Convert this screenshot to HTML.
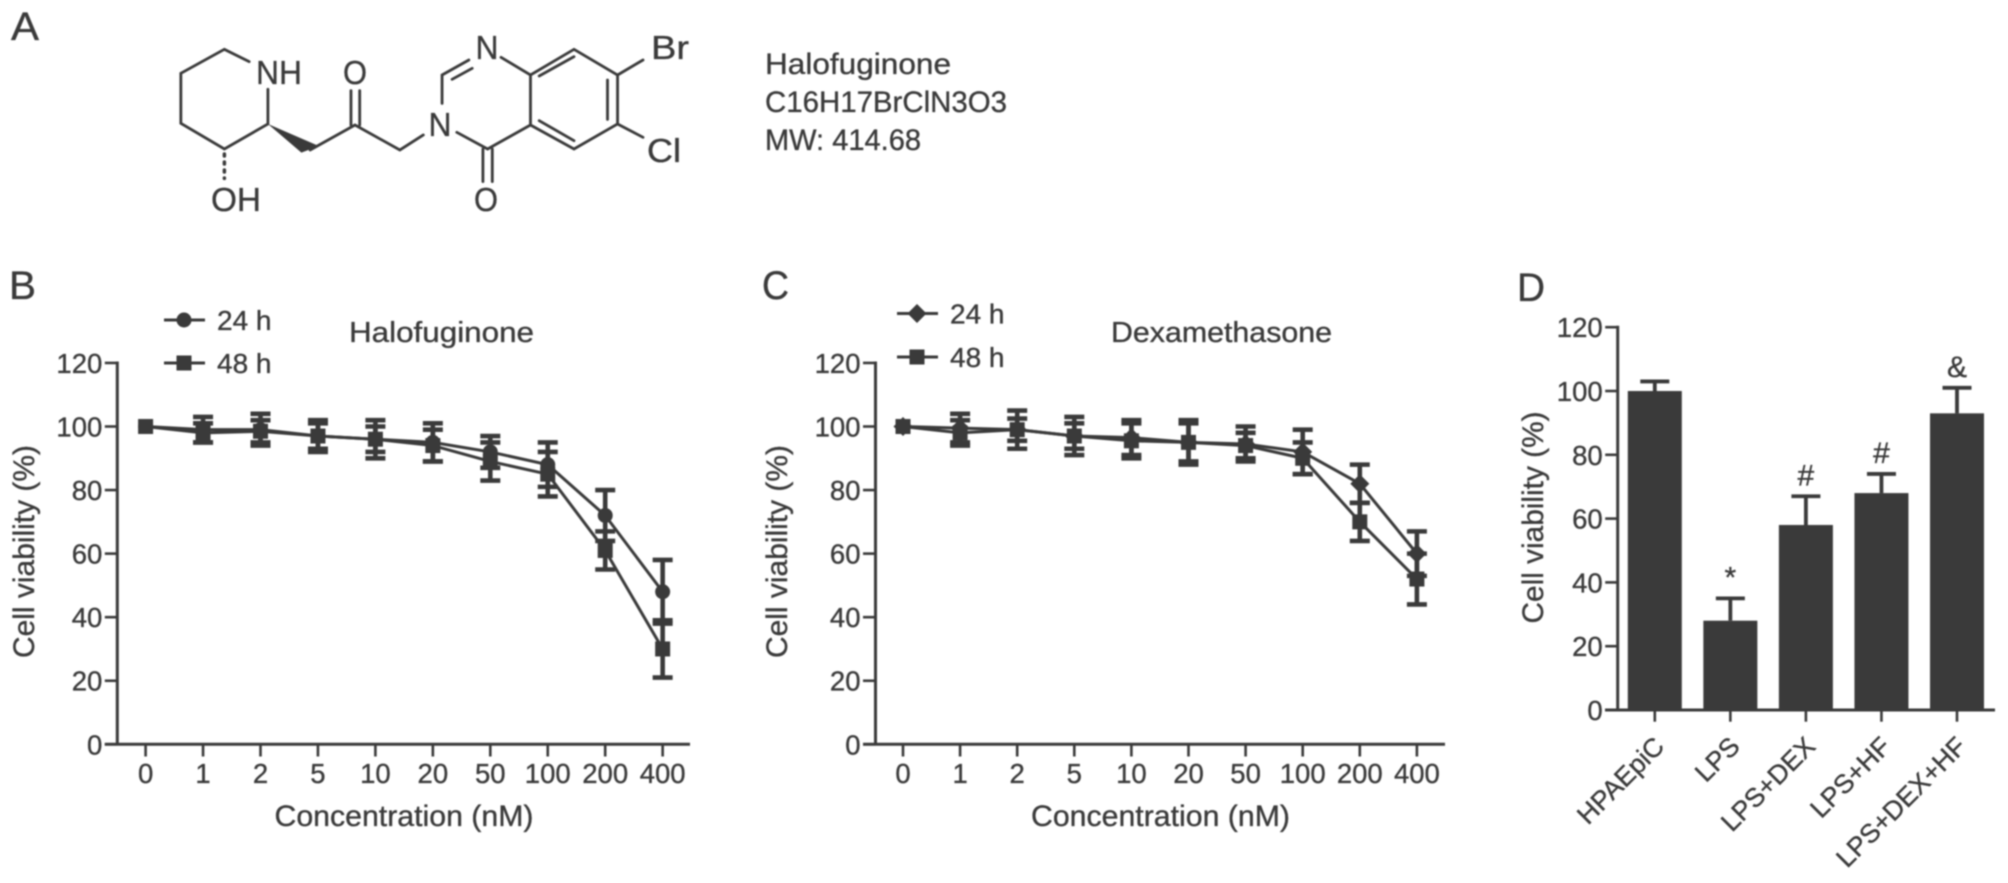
<!DOCTYPE html>
<html lang="en">
<head>
<meta charset="utf-8">
<title>Halofuginone cell viability figure</title>
<style>
html,body{margin:0;padding:0;background:#fff;width:2008px;height:883px;overflow:hidden}
svg{display:block;filter:blur(0.7px)}
text{font-family:"Liberation Sans",sans-serif;fill:#3a3a3a;stroke:#3a3a3a;stroke-width:.35px}
</style>
</head>
<body>
<svg id="figure" width="2008" height="883" viewBox="0 0 2008 883" xmlns="http://www.w3.org/2000/svg">
<rect width="2008" height="883" fill="#fff"/>
<text x="11" y="40" font-size="40" textLength="28" lengthAdjust="spacingAndGlyphs">A</text>
<text x="9" y="299" font-size="40" textLength="27" lengthAdjust="spacingAndGlyphs">B</text>
<text x="762" y="299" font-size="40" textLength="27" lengthAdjust="spacingAndGlyphs">C</text>
<text x="1517" y="301" font-size="40" textLength="28" lengthAdjust="spacingAndGlyphs">D</text>

<g>
<g transform="scale(0.6698,0.3333)" fill="none" stroke="#3a3a3a" stroke-width="2.8" stroke-linecap="round">
<path vector-effect="non-scaling-stroke" d="M372,185L335,148L270,220V370L335,447L400,372V268"/>
<path vector-effect="non-scaling-stroke" d="M463,450L530,375L597,450L632,405"/>
<path vector-effect="non-scaling-stroke" d="M524,375V272M537,375V272"/>
<path vector-effect="non-scaling-stroke" d="M660,310V225L700,180M675,238L705,205"/>
<path vector-effect="non-scaling-stroke" d="M748,172L792,225L857,148L922,225V372L857,447L792,375V225M805,228L857,170M907,240V358M857,422L805,362"/>
<path vector-effect="non-scaling-stroke" d="M922,225L960,180M922,372L960,412"/>
<path vector-effect="non-scaling-stroke" d="M792,375L728,447L682,397M721,447V545M735,447V545"/>
<path vector-effect="non-scaling-stroke" stroke-dasharray="2 6" stroke-width="3.5" d="M335,462V535"/>
<polygon points="400,372 450,458 476,438" fill="#3a3a3a" stroke="none"/>
</g>
<g font-size="33" text-anchor="middle">
<text x="279" y="84" textLength="46" lengthAdjust="spacingAndGlyphs">NH</text>
<text x="355" y="84" textLength="24" lengthAdjust="spacingAndGlyphs">O</text>
<text x="487" y="59" textLength="23" lengthAdjust="spacingAndGlyphs">N</text>
<text x="670" y="59" textLength="38" lengthAdjust="spacingAndGlyphs">Br</text>
<text x="440" y="136" textLength="23" lengthAdjust="spacingAndGlyphs">N</text>
<text x="664" y="162" textLength="34" lengthAdjust="spacingAndGlyphs">Cl</text>
<text x="486" y="211" textLength="24" lengthAdjust="spacingAndGlyphs">O</text>
<text x="236" y="211" textLength="50" lengthAdjust="spacingAndGlyphs">OH</text>
</g>
</g>

<g font-size="30">
<text x="765" y="74" textLength="186" lengthAdjust="spacingAndGlyphs">Halofuginone</text>
<text x="765" y="112" textLength="242" lengthAdjust="spacingAndGlyphs">C16H17BrClN3O3</text>
<text x="765" y="150" textLength="156" lengthAdjust="spacingAndGlyphs">MW: 414.68</text>
</g>

<g id="panelB"></g>
<g id="panelC"></g>
<g id="panelD"></g>
</svg>

<script>
const concentrationLabels = ['0','1','2','5','10','20','50','100','200','400'];
const yTickValues = [0,20,40,60,80,100,120];

const hf24Values = [100,99,99,97,96,95,92,88,72,48];
const hf24Errors = [0,4,5,5,6,6,5,7,8,10];
const hf48Values = [100,98,98.5,97,96,94,89,85,61,30];
const hf48Errors = [0,3,3.5,4,4,5,6,7,6,9];

const dex24Values = [100,99.5,99,97,96.5,95,94.5,92,82,60];
const dex24Errors = [0,4.5,6,6,5.5,7,5.5,7,6,7];
const dex48Values = [100,98,99,97,95.5,95,94,90,70,52];
const dex48Errors = [0,4,3.5,4,5.5,6,4,5,6,8];

const barCategories = ['HPAEpiC','LPS','LPS+DEX','LPS+HF','LPS+DEX+HF'];
const barValues = [100,28,58,68,93];
const barErrors = [3,7,9,6,8];
const barSymbols = ['','*','#','#','&'];

const SVG_NS = 'http://www.w3.org/2000/svg';
const INK = '#3a3a3a';

function mk(parent, tag, attrs, txt) {
  const el = document.createElementNS(SVG_NS, tag);
  for (const k in attrs) el.setAttribute(k, attrs[k]);
  if (txt !== undefined) el.textContent = txt;
  parent.appendChild(el);
  return el;
}

function drawYAxis(g, axisX, yScale, rightEnd, leftEnd) {
  const yAxis = mk(g, 'line', {x1:axisX, x2:axisX, y1:yScale(120)-1.5, y2:yScale(0), stroke:INK, 'stroke-width':3});
  
  
  const xAxis = mk(g, 'line', {x1:leftEnd, x2:rightEnd, y1:yScale(0), y2:yScale(0), stroke:INK, 'stroke-width':3});
  
  
  yTickValues.forEach(function (v) {
    const tick = mk(g, 'line', {x1:axisX-12.5, x2:axisX, y1:yScale(v), y2:yScale(v), stroke:INK, 'stroke-width':2.6});
    
    
    const label = mk(g, 'text', {x:axisX-15, y:yScale(v)+10, 'font-size':27.5, 'text-anchor':'end'}, String(v));
    
    
  });
}

function drawMarker(g, kind, cx, cy) {
  let m;
  if (kind === 'square') {
    m = mk(g, 'rect', {x:cx-7.5, y:cy-7.5, width:15, height:15, fill:INK});
  } else if (kind === 'diamond') {
    m = mk(g, 'polygon', {points:[cx,cy-9.5,cx+9.5,cy,cx,cy+9.5,cx-9.5,cy].join(','), fill:INK});
  } else {
    m = mk(g, 'circle', {cx:cx, cy:cy, r:7.5, fill:INK});
  }
  return m;
}

function drawSeries(g, name, marker, values, errors, xScale, yScale) {
  const pts = values.map(function (v, i) { return xScale(i) + ',' + yScale(v); }).join(' ');
  const line = mk(g, 'polyline', {points:pts, fill:'none', stroke:INK, 'stroke-width':3});
  
  
  values.forEach(function (v, i) {
    const x = xScale(i);
    if (errors[i] > 0) {
      const bar = mk(g, 'path', {
        d: 'M' + x + ',' + yScale(v + errors[i]) + 'V' + yScale(v - errors[i]) +
           'M' + (x-10) + ',' + yScale(v + errors[i]) + 'H' + (x+10) +
           'M' + (x-10) + ',' + yScale(v - errors[i]) + 'H' + (x+10),
        fill:'none', stroke:INK, 'stroke-width':4.6
      });
      
      
    }
    const pt = drawMarker(g, marker, x, yScale(v));
    
    
  });
}

function drawLinePanel(g, o) {
  const yScale = function (v) { return 744.3 - v * 3.178; };
  const xScale = function (i) { return o.x0 + i * o.step; };
  drawYAxis(g, o.axisX, yScale, o.axisEnd, o.axisX-12.5);

  concentrationLabels.forEach(function (c, i) {
    const tick = mk(g, 'line', {x1:xScale(i), x2:xScale(i), y1:744.3, y2:756.5, stroke:INK, 'stroke-width':2.6});
    
    
    const label = mk(g, 'text', {x:xScale(i), y:783, 'font-size':27.5, 'text-anchor':'middle'}, c);
    
    
  });

  const xTitle = mk(g, 'text', {x:o.xTitleX, y:826, 'font-size':30, textLength:259, lengthAdjust:'spacingAndGlyphs'}, 'Concentration (nM)');
  
  

  const yTitle = mk(g, 'text', {transform:'translate(' + o.yTitleX + ',658) rotate(-90)', 'font-size':30, textLength:213, lengthAdjust:'spacingAndGlyphs'}, 'Cell viability (%)');
  
  

  const title = mk(g, 'text', {x:o.titleX, y:342, 'font-size':29, textLength:o.titleW, lengthAdjust:'spacingAndGlyphs'}, o.title);
  
  

  drawSeries(g, 'series-24h', o.marker24, o.v24, o.e24, xScale, yScale);
  drawSeries(g, 'series-48h', 'square', o.v48, o.e48, xScale, yScale);

  [[o.leg24y, '24 h', o.marker24], [o.leg48y, '48 h', 'square']].forEach(function (row) {
    const key = mk(g, 'line', {x1:o.legX, x2:o.legX+41, y1:row[0], y2:row[0], stroke:INK, 'stroke-width':3});
    
    
    const mark = drawMarker(g, row[2], o.legX+20, row[0]);
    
    
    const text = mk(g, 'text', {x:o.legX+53, y:row[0]+10, 'font-size':28}, row[1]);
    
    
  });
}

drawLinePanel(document.getElementById('panelB'), {
  axisX:117.3, axisEnd:690, x0:145.6, step:57.45,
  xTitleX:274.5, yTitleX:34, titleX:349, titleW:185, title:'Halofuginone',
  legX:164, leg24y:320, leg48y:363,
  marker24:'circle', v24:hf24Values, e24:hf24Errors, v48:hf48Values, e48:hf48Errors
});

drawLinePanel(document.getElementById('panelC'), {
  axisX:875.5, axisEnd:1445, x0:903, step:57.1,
  xTitleX:1031, yTitleX:787, titleX:1111, titleW:221, title:'Dexamethasone',
  legX:897, leg24y:313.5, leg48y:357,
  marker24:'diamond', v24:dex24Values, e24:dex24Errors, v48:dex48Values, e48:dex48Errors
});

(function () {
  const g = document.getElementById('panelD');
  const yScale = function (v) { return 710 - v * 3.19; };
  const xScale = function (i) { return 1654.8 + i * 75.55; };
  barCategories.forEach(function (c, i) {
    const x = xScale(i);
    const err = mk(g, 'path', {
      d:'M' + x + ',' + yScale(barValues[i]) + 'V' + yScale(barValues[i] + barErrors[i]) +
        'M' + (x-14.5) + ',' + yScale(barValues[i] + barErrors[i]) + 'H' + (x+14.5),
      fill:'none', stroke:INK, 'stroke-width':3.8
    });
    
    
    const bar = mk(g, 'rect', {x:x-27, y:yScale(barValues[i]), width:54, height:yScale(0)-yScale(barValues[i]), fill:INK});
    
    
    const tick = mk(g, 'line', {x1:x, x2:x, y1:710, y2:721.7, stroke:INK, 'stroke-width':2.6});
    
    
    const label = mk(g, 'text', {transform:'translate(' + (x+11) + ',748) rotate(-45)', 'font-size':26.5, 'text-anchor':'end'}, c);
    
    
    if (barSymbols[i]) {
      const sym = mk(g, 'text', {x:x, y:yScale(barValues[i] + barErrors[i]) - 11, 'font-size':30, 'text-anchor':'middle'}, barSymbols[i]);
      
      
    }
  });
  drawYAxis(g, 1617.7, yScale, 1995, 1605);
  const yTitle = mk(g, 'text', {transform:'translate(1543,623.5) rotate(-90)', 'font-size':30, textLength:212, lengthAdjust:'spacingAndGlyphs'}, 'Cell viability (%)');
  
  
})();
</script>
</body>
</html>
